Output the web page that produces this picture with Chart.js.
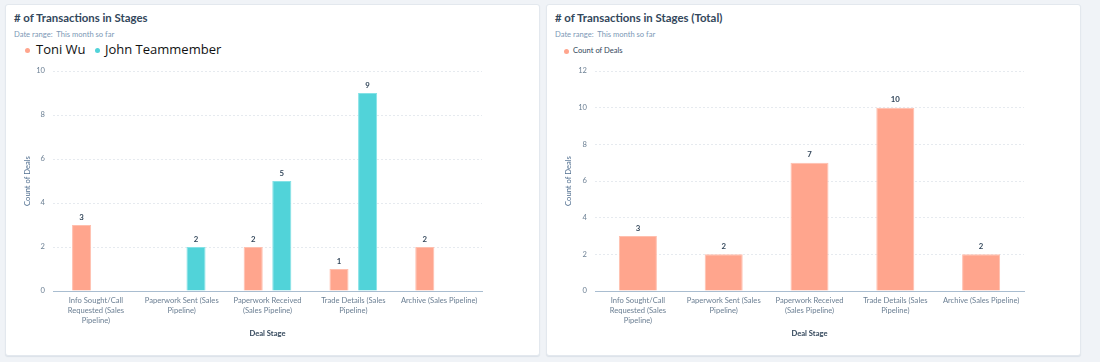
<!DOCTYPE html>
<html><head><meta charset="utf-8">
<script src="https://cdn.jsdelivr.net/npm/chart.js@4/dist/chart.umd.min.js"></script>
<style>
html,body{margin:0;padding:0;background:#f0f3f7;width:1100px;height:362px;overflow:hidden;font-family:Lato,"Open Sans",sans-serif;}
.card{position:absolute;top:4px;width:533px;height:350px;background:#fff;border:1px solid #e3e8ee;border-radius:3px;box-shadow:0 1px 1px #dbe1e8;}
.title{position:absolute;left:8px;top:6px;font-weight:bold;font-size:11.4px;color:#33475b;white-space:nowrap;}
.date{position:absolute;left:8px;top:24px;font-size:7.6px;color:#7c98b6;white-space:nowrap;}
.leg{position:absolute;white-space:nowrap;}
.dot{display:inline-block;border-radius:50%;vertical-align:middle;}
canvas{position:absolute;left:0;top:0;}
</style></head><body>
<div class="card" id="c1" style="left:5px;">
  <div class="title"># of Transactions in Stages</div>
  <div class="date">Date range:&nbsp; This month so far</div>
  <div class="leg" style="left:19px;top:35px;font-family:'Open Sans',sans-serif;font-size:13px;color:#111;">
    <span class="dot" style="width:5px;height:5px;background:#ffa58d;margin-right:6px;"></span>Toni Wu
    <span class="dot" style="width:5px;height:5px;background:#51d3d9;margin:0 5px 0 6px;"></span>John Teammember
  </div>
  <canvas id="chart1" width="534" height="351"></canvas>
</div>
<div class="card" id="c2" style="left:546px;">
  <div class="title"># of Transactions in Stages (Total)</div>
  <div class="date">Date range:&nbsp; This month so far</div>
  <div class="leg" style="left:17px;top:40px;font-size:7.6px;color:#33475b;">
    <span class="dot" style="width:5px;height:5px;background:#ffa58d;margin-right:4px;"></span>Count of Deals
  </div>
  <canvas id="chart2" width="534" height="351"></canvas>
</div>
<script>
const categories = [
  ["Info Sought/Call", "Requested (Sales", "Pipeline)"],
  ["Paperwork Sent (Sales", "Pipeline)"],
  ["Paperwork Received", "(Sales Pipeline)"],
  ["Trade Details (Sales", "Pipeline)"],
  ["Archive (Sales Pipeline)"]
];
const toniWu = [3, null, 2, 1, 2];
const johnTeammember = [null, 2, 5, 9, null];
const totalDeals = [3, 2, 7, 10, 2];
const leftTicksMax = 10;
const rightTicksMax = 12;

const PINK = '#ffa58d', BLUE = '#51d3d9';
const FONT = 'Lato, "Open Sans", sans-serif';

const valueLabels = {
  id: 'valueLabels',
  afterDatasetsDraw(chart) {
    const ctx = chart.ctx;
    ctx.save();
    ctx.font = 'bold 7.8px ' + FONT;
    ctx.fillStyle = '#33475b';
    ctx.textAlign = 'center';
    ctx.textBaseline = 'middle';
    chart.data.datasets.forEach((ds, i) => {
      const meta = chart.getDatasetMeta(i);
      meta.data.forEach((el, j) => {
        const v = ds.data[j];
        if (v === null || v === undefined) return;
        ctx.fillText(String(v), el.x, el.y - 8);
      });
    });
    ctx.restore();
  }
};

function makeOptions(max, yWidth, padRight, catPct, barPct) {
  return {
    responsive: false,
    devicePixelRatio: 1,
    animation: false,
    layout: { padding: { top: 66, right: padRight, left: 0, bottom: 0 } },
    plugins: { legend: { display: false }, tooltip: { enabled: false } },
    datasets: { bar: { categoryPercentage: catPct, barPercentage: barPct } },
    scales: {
      x: {
        grid: { display: false, drawTicks: false },
        border: { display: true, color: '#a9bdd0', width: 1 },
        ticks: { color: '#6b7f93', padding: 5, maxRotation: 0, autoSkip: false,
                 font: { family: FONT, size: 7.6, lineHeight: 1.28 } },
        title: { display: true, text: 'Deal Stage', color: '#33475b',
                 font: { family: FONT, size: 7.6, weight: 'bold', lineHeight: 1.2 },
                 padding: { top: 0, bottom: 17.5 } },
        afterFit(s) { s.height = 65; }
      },
      y: {
        min: 0, max: max,
        ticks: { stepSize: 2, color: '#6b7f93', padding: 8,
                 font: { family: FONT, size: 7.6 } },
        grid: { color: '#e6eaef', drawTicks: false, lineWidth: 1 },
        border: { display: false, dash: [2, 2] },
        title: { display: true, text: 'Count of Deals', color: '#516f90',
                 font: { family: FONT, size: 7.6, lineHeight: 1.2 },
                 padding: { top: 16.5, bottom: 0 } },
        afterFit(s) { s.width = yWidth; }
      }
    }
  };
}

new Chart(document.getElementById('chart1'), {
  type: 'bar',
  data: {
    labels: categories,
    datasets: [
      { label: 'Toni Wu', data: toniWu, backgroundColor: PINK, borderColor: '#ffbfae', borderWidth: 1 },
      { label: 'John Teammember', data: johnTeammember, backgroundColor: BLUE, borderColor: '#84e2e6', borderWidth: 1 }
    ]
  },
  options: makeOptions(leftTicksMax, 47, 58, 0.667, 0.667),
  plugins: [valueLabels]
});

new Chart(document.getElementById('chart2'), {
  type: 'bar',
  data: {
    labels: categories,
    datasets: [
      { label: 'Count of Deals', data: totalDeals, backgroundColor: PINK, borderColor: '#ffbfae', borderWidth: 1 }
    ]
  },
  options: makeOptions(rightTicksMax, 48, 57, 1, 0.443),
  plugins: [valueLabels]
});
</script>
</body></html>
